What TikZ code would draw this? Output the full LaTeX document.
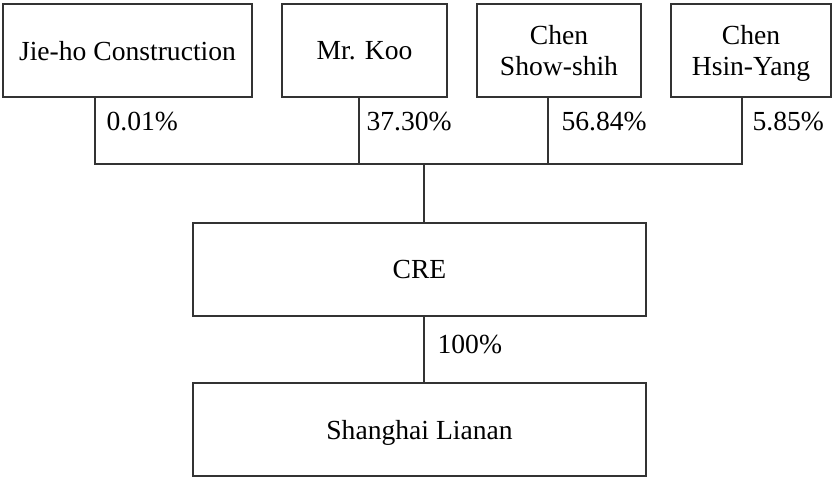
\documentclass[tikz,border=0pt]{standalone}
\usepackage{fontspec}
\setmainfont{Liberation Serif}
\definecolor{LineClr}{rgb}{0.2,0.2,0.2}

\begin{document}
\begin{tikzpicture}[x=1pt,y=-1pt,line width=1.2pt,
  owner/.style={draw=LineClr,minimum height=93pt,inner sep=0pt,align=center,
    text depth=0pt,font=\fontsize{27.6}{31}\selectfont},
  share/.style={anchor=base west,inner sep=0pt,font=\fontsize{27.6}{31}\selectfont}]
\useasboundingbox (0,0) rectangle (834,478);

\node[owner,minimum width=249pt] (jieho) at (127.5,50.5) {Jie-ho Construction};
\node[owner,minimum width=165pt] (koo) at (364.5,50.5) {Mr. Koo};
\node[owner,minimum width=164pt] (show) at (559,50.5) {Chen\\Show-shih};
\node[owner,minimum width=160pt] (hsin) at (751,50.5) {Chen\\Hsin-Yang};
\node[owner,minimum width=453pt] (cre) at (419.5,269.5) {CRE};
\node[owner,minimum width=453pt] (lianan) at (419.5,429.5) {Shanghai Lianan};

\coordinate (J1) at (95,164);
\coordinate (J2) at (359,164);
\coordinate (J3) at (548,164);
\coordinate (J4) at (742,164);
\coordinate (C1) at (424,164);

\draw[LineClr] (J1 |- jieho.south) -- (J1) -- (J4) -- (J4 |- hsin.south);
\draw[LineClr] (J2 |- koo.south) -- (J2);
\draw[LineClr] (J3 |- show.south) -- (J3);
\draw[LineClr] (C1) -- (C1 |- cre.north);
\draw[LineClr] (C1 |- cre.south) -- (C1 |- lianan.north);

\node[share] (s1) at (106,131) {0.01\%};
\node[share] (s2) at (366,131) {37.30\%};
\node[share] (s3) at (561,131) {56.84\%};
\node[share] (s4) at (752,131) {5.85\%};
\node[share] (s5) at (437,353) {100\%};

\end{tikzpicture}
\end{document}
